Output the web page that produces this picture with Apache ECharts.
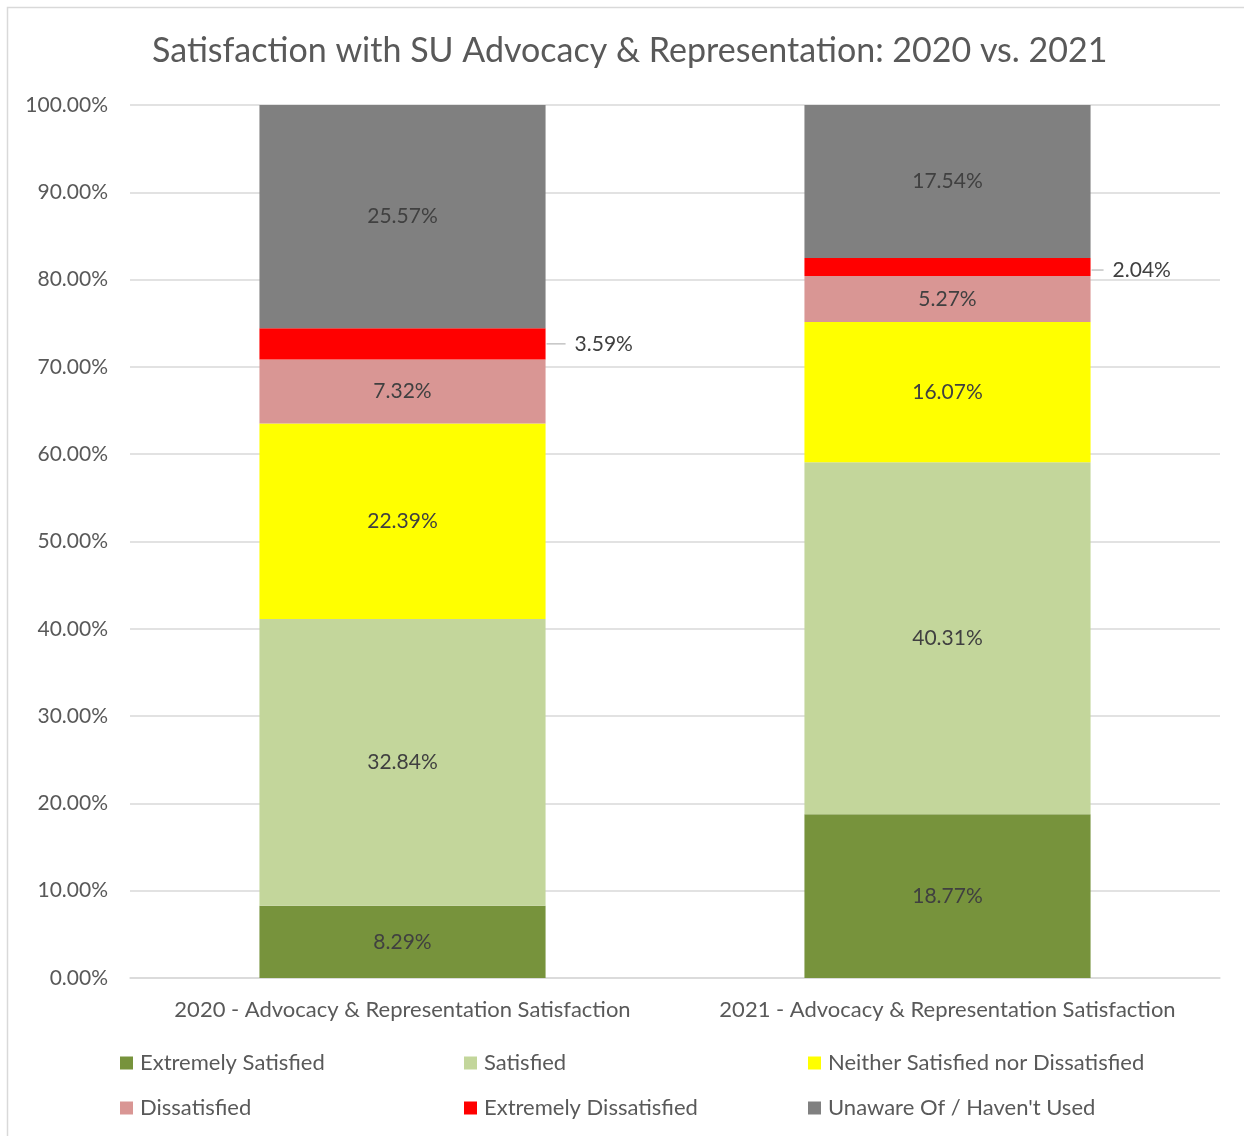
<!DOCTYPE html>
<html>
<head>
<meta charset="utf-8">
<script src="https://cdn.jsdelivr.net/npm/echarts@6/dist/echarts.min.js"></script>
<style>html,body{margin:0;padding:0;background:#fff}#c{width:1244px;height:1136px}</style>
</head>
<body>
<div id="c"></div>
<script>
const categories = ['2020 - Advocacy & Representation Satisfaction', '2021 - Advocacy & Representation Satisfaction'];
const seriesNames = ['Extremely Satisfied', 'Satisfied', 'Neither Satisfied nor Dissatisfied', 'Dissatisfied', 'Extremely Dissatisfied', "Unaware Of / Haven't Used"];
const extremelySatisfied = [8.29, 18.77];
const satisfied = [32.84, 40.31];
const neither = [22.39, 16.07];
const dissatisfied = [7.32, 5.27];
const extremelyDissatisfied = [3.59, 2.04];
const unaware = [25.57, 17.54];
const yTicks = [0, 10, 20, 30, 40, 50, 60, 70, 80, 90, 100];

const FONT = 'Lato';
const TXT = '#595959';
const colors = ['#77933C', '#C3D69B', '#FFFF00', '#D99694', '#FF0000', '#808080'];
const allData = [extremelySatisfied, satisfied, neither, dissatisfied, extremelyDissatisfied, unaware];

const chart = echarts.init(document.getElementById('c'), null, {renderer: 'canvas'});

const series = allData.map((d, i) => {
  const outside = (i === 4);
  return {
    name: seriesNames[i],
    type: 'bar',
    stack: 'total',
    barWidth: '52.5%',
    data: outside ? d.map((v, j) => ({value: v, label: {offset: j === 1 ? [0, 3] : [0, 0]}})) : d,
    itemStyle: {color: colors[i]},
    label: outside ? {
      show: true,
      position: 'right',
      distance: 1,
      formatter: (p) => (p.dataIndex === 1 ? '{ln2|}' : '{ln|}') + '{v|' + p.value.toFixed(2) + '%}',
      rich: {
        ln: {width: 19, height: 1, backgroundColor: '#A6A6A6'},
        ln2: {width: 12, height: 1, backgroundColor: '#A6A6A6'},
        v: {fontFamily: FONT, fontSize: 21, color: '#404040', padding: [0, 0, 0, 9]}
      }
    } : {
      show: true,
      position: 'inside',
      fontFamily: FONT,
      fontSize: 21,
      color: '#404040',
      formatter: (p) => p.value.toFixed(2) + '%'
    },
    emphasis: {disabled: true}
  };
});

const legendPos = [[115, 1047], [459, 1047], [803, 1047], [115, 1092], [459, 1092], [803, 1092]];
const legends = seriesNames.map((n, i) => ({
  data: [n],
  left: legendPos[i][0],
  top: legendPos[i][1],
  icon: 'rect',
  itemWidth: 13,
  itemHeight: 13,
  itemGap: 0,
  selectedMode: false,
  textStyle: {fontFamily: FONT, fontSize: 22, color: TXT, padding: [0, 0, 0, 2]}
}));

chart.setOption({
  animation: false,
  backgroundColor: '#fff',
  title: {
    text: 'Satisfaction with SU Advocacy & Representation: 2020 vs. 2021',
    left: 147,
    top: 29,
    textStyle: {fontFamily: FONT, fontSize: 34, fontWeight: 'normal', color: TXT}
  },
  graphic: [{
    type: 'rect',
    shape: {x: 7.5, y: 7.5, width: 1300, height: 1300},
    style: {fill: 'none', stroke: '#D9D9D9', lineWidth: 1.5},
    silent: true
  }],
  legend: legends,
  grid: {left: 130, right: 24, top: 105, bottom: 158},
  xAxis: {
    type: 'category',
    data: categories,
    axisLine: {show: true, lineStyle: {color: '#D9D9D9', width: 1.5}},
    axisTick: {show: false},
    axisLabel: {fontFamily: FONT, fontSize: 22, color: TXT, margin: 21, interval: 0}
  },
  yAxis: {
    type: 'value',
    min: yTicks[0],
    max: yTicks[yTicks.length - 1],
    interval: 10,
    axisLine: {show: false},
    axisTick: {show: false},
    splitLine: {lineStyle: {color: '#D9D9D9', width: 1.5}},
    axisLabel: {fontFamily: FONT, fontSize: 21, color: TXT, margin: 22, formatter: (v) => v.toFixed(2) + '%'}
  },
  series: series
});
</script>
</body>
</html>
